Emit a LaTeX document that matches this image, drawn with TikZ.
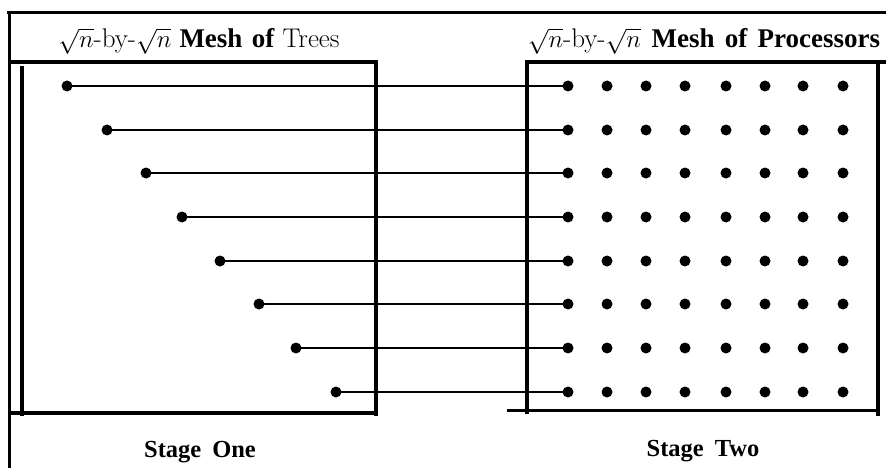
\documentclass[tikz,border=0pt]{standalone}
\usepackage{fontspec}
\newfontfamily\tms{Liberation Serif}
\begin{document}
\begin{tikzpicture}[x=1pt,y=-1pt,
  frame/.style={line width=3.5pt},
  conn/.style={line width=1.6pt},
  dot/.style={circle,fill=black,inner sep=0pt,minimum size=11pt},
  title/.style={font=\fontsize{27}{30}\selectfont,inner sep=0pt,anchor=base},
  stage/.style={font=\fontsize{24.5}{28}\selectfont\tms\bfseries,inner sep=0pt,anchor=base}]
\useasboundingbox (0,0) rectangle (886,468);
% outer frame
\draw[frame] (7,12.5) -- (886,12.5);
\draw[frame] (9.5,11) -- (9.5,468);
% left box
\draw[frame] (9.5,62) -- (377,62);
\draw[frame] (9.5,413) -- (377,413);
\draw[frame] (376,60.5) -- (376,416);
\draw[frame] (22,66) -- (22,416);
% right box
\draw[frame] (525,62) -- (886,62);
\draw[frame] (527,60.5) -- (527,414);
\draw[frame] (878,60.5) -- (878,416);
\draw[frame] (507,410.5) -- (879.5,410.5);
% titles
\node[title] (t1) at (199,48) {$\sqrt{n}$-by-$\sqrt{n}$\hspace{0.3em}{\tms\bfseries Mesh\hspace{0.35em}of}\hspace{0.3em}Trees};
\node[title] (t2) at (704,48) {$\sqrt{n}$-by-$\sqrt{n}$\hspace{0.4em}{\tms\bfseries Mesh\hspace{0.38em}of\hspace{0.38em}Processors}};
\node[stage] (s1) at (200,457) {Stage\hspace{0.45em}One};
\node[stage] (s2) at (703,456) {Stage\hspace{0.45em}Two};
% dots
\foreach \r/\y/\lx in {1/86/67,2/130/107,3/173/146,4/217/182,5/261/220,6/304/259,7/348/296,8/392/336}{
  \node[dot] (L\r) at (\lx,\y) {};
  \foreach \c/\x in {1/568,2/607,3/646,4/685,5/726,6/765,7/803,8/843}{
    \node[dot] (P\r-\c) at (\x,\y) {};
  }
  \draw[conn] (L\r.center) -- (P\r-1.center);
}
\end{tikzpicture}
\end{document}
